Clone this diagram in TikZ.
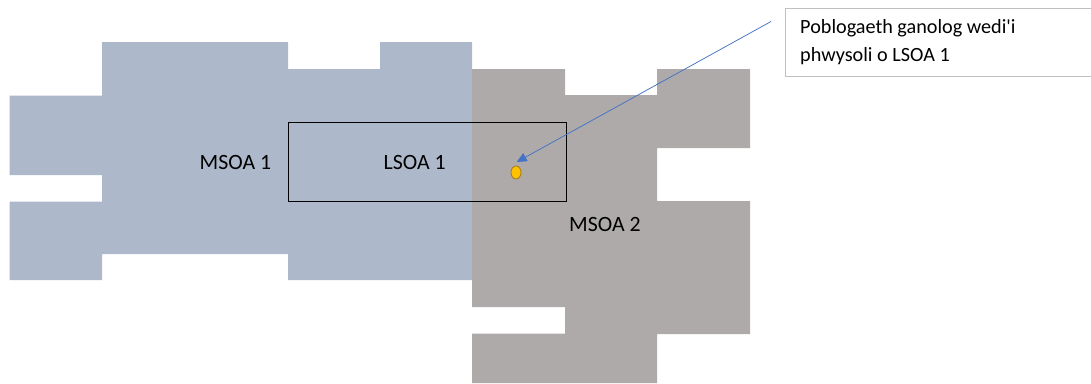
\documentclass[tikz,border=0pt]{standalone}
\usepackage{fontspec}
\setmainfont{Carlito}
\usetikzlibrary{arrows.meta,shapes.geometric}
\definecolor{msoablue}{HTML}{ADB9CA}
\definecolor{msoagray}{HTML}{AEAAAA}
\definecolor{dotfill}{HTML}{FFC000}
\definecolor{dotline}{HTML}{A07C10}
\definecolor{arrowblue}{HTML}{4472C4}
\definecolor{boxline}{HTML}{BFBFBF}
\begin{document}
\begin{tikzpicture}[x=1pt,y=-1pt,
  maptext/.style={font=\fontsize{21.8}{27.5}\selectfont, inner sep=0pt, anchor=base west, text=black},
  callouttextstyle/.style={font=\fontsize{20.2}{27.5}\selectfont, inner sep=0pt, anchor=base west, text=black, align=left},
  areabox/.style={draw=black, line width=1.2pt, inner sep=0pt, anchor=north west},
  centroidmark/.style={draw=dotline, fill=dotfill, ellipse, minimum width=10pt, minimum height=13pt, inner sep=0pt, line width=0.8pt},
  pointer/.style={arrowblue, line width=0.75pt, -{Triangle[length=10pt,width=9pt]}},
  calloutframe/.style={draw=boxline, line width=1pt, fill=white}]
\useasboundingbox (0,0) rectangle (1091,383);
% MSOA 1
\fill[msoablue] (9.5,95.5) -- (102,95.5) -- (102,42) -- (288,42) -- (288,69) -- (380,69) -- (380,42) -- (472,42) -- (472,280) -- (288,280) -- (288,254) -- (102,254) -- (102,280) -- (9.5,280) -- (9.5,201.5) -- (102,201.5) -- (102,175) -- (9.5,175) -- cycle;
% MSOA 2
\fill[msoagray] (472,69) -- (565,69) -- (565,95) -- (657,95) -- (657,69) -- (750,69) -- (750,148) -- (657,148) -- (657,201) -- (750,201) -- (750,334) -- (657,334) -- (657,383) -- (472,383) -- (472,333.5) -- (565,333.5) -- (565,307) -- (472,307) -- cycle;
% LSOA 1 box
\node[areabox, minimum width=277.5pt, minimum height=79pt] (lsoa) at (288,122) {};
% labels
\node[maptext] (msoa1) at (199.5,169.5) {MSOA 1};
\node[maptext] (lsoa1) at (383.5,169.5) {LSOA 1};
\node[maptext] (msoa2) at (569,231) {MSOA 2};
% centroid
\node[centroidmark] (centroid) at (516,172.5) {};
% callout
\draw[calloutframe] (1093,8.3) -- (785.7,8.3) -- (785.7,76.7) -- (1093,76.7);
\node[callouttextstyle] (callouttext) at (800,61) {Poblogaeth ganolog wedi\textquotesingle i\\phwysoli o LSOA 1};
\coordinate (calloutend) at (771,21.5);
\coordinate (tip) at (516.7,162);
\draw[pointer] (calloutend) -- (tip);
\end{tikzpicture}
\end{document}
